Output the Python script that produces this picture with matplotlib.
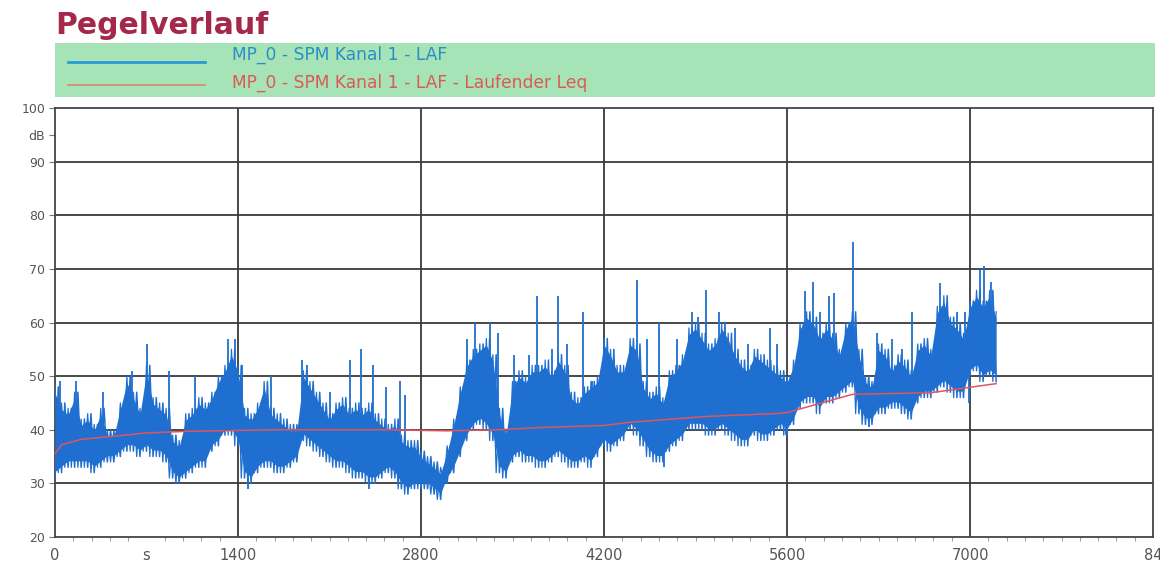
import numpy as np
import matplotlib
matplotlib.use("Agg")
import matplotlib.pyplot as plt
from matplotlib.patches import Rectangle
from matplotlib.lines import Line2D

# ---------------- data ----------------
time_s = list(range(0, 7201, 50))

laf_high = [
    48, 45, 44, 47, 42, 43, 41, 44, 40, 40,
    45, 50, 47, 44, 52, 46, 45, 44, 39, 38,
    43, 44, 46, 45, 47, 50, 52, 55, 52, 44,
    43, 45, 49, 44, 43, 42, 41, 41, 51, 49,
    47, 45, 43, 45, 46, 44, 45, 44, 45, 43,
    42, 41, 42, 39, 38, 38, 36, 35, 34, 33,
    37, 42, 48, 53, 55, 56, 57, 54, 44, 40,
    49, 51, 50, 52, 52, 53, 51, 54, 52, 47,
    46, 48, 49, 50, 57, 55, 52, 52, 57, 56,
    49, 47, 48, 46, 51, 52, 54, 59, 60, 58,
    56, 57, 60, 58, 55, 53, 52, 55, 54, 53,
    52, 51, 50, 53, 60, 62, 61, 58, 60, 58,
    55, 60, 62, 55, 50, 49, 56, 55, 52, 54,
    53, 51, 56, 57, 55, 63, 65, 61, 60, 58,
    64, 66, 64, 66, 62,
]

laf_low = [
    31, 32, 33, 33, 33, 33, 32, 33, 34, 34,
    35, 36, 36, 35, 36, 35, 35, 34, 31, 30,
    31, 32, 33, 33, 36, 37, 39, 39, 37, 31,
    30, 32, 33, 33, 32, 32, 33, 34, 38, 37,
    36, 35, 34, 33, 33, 32, 31, 31, 30, 30,
    31, 32, 31, 29, 28, 29, 29, 29, 28, 27,
    30, 32, 35, 38, 40, 41, 40, 38, 32, 31,
    34, 35, 34, 34, 33, 33, 34, 35, 34, 33,
    33, 34, 33, 35, 37, 36, 37, 38, 40, 39,
    37, 35, 34, 34, 36, 37, 38, 40, 40, 40,
    39, 39, 40, 39, 38, 37, 37, 39, 38, 38,
    39, 40, 39, 41, 44, 45, 45, 43, 45, 45,
    46, 47, 48, 43, 41, 41, 43, 43, 44, 44,
    43, 42, 45, 46, 46, 47, 48, 47, 46, 46,
    50, 51, 49, 50, 49,
]

spike_time = [40, 160, 370, 590, 705, 870, 1070, 1320, 1380, 1430, 1650,
              1890, 1930, 2100, 2260, 2340, 2430, 2530, 2640, 2680, 3150,
              3210, 3325, 3390, 3510, 3630, 3685, 3800, 3845, 3920, 4040,
              4110, 4450, 4530, 4620, 4760, 4870, 4920, 4984, 5080, 5200,
              5300, 5470, 5520, 5740, 5800, 5850, 5920, 5960, 6105, 6285,
              6400, 6480, 6560, 6770, 6900, 6960, 7080, 7110, 7160]
spike_peak = [49, 49, 47, 51, 56, 51, 50, 57, 57, 52, 50,
              53, 52, 47, 53, 55, 52, 48, 49, 46.5, 57,
              60, 60, 58, 54, 54, 65, 55, 65, 56, 62,
              49, 68, 57, 60, 57, 62, 61, 66, 62, 59,
              56, 59, 56, 65.8, 67.5, 62, 65, 65.5, 75, 58,
              57, 55, 62, 67.4, 62, 62, 70, 70.5, 67.5]

dip_time = [1480, 2400, 4660, 5595, 6225, 6990]
dip_low = [29, 29, 33, 39, 40.5, 45]

leq_time = [0, 50, 200, 450, 700, 1000, 1700, 2500, 3000, 3400, 3700,
            4200, 4400, 5000, 5500, 5600, 6100, 6700, 7200]
leq_value = [35.5, 37.2, 38.2, 38.8, 39.4, 39.7, 40.0, 40.0, 39.8, 40.0, 40.4,
             40.8, 41.4, 42.5, 43.0, 43.2, 46.6, 46.9, 48.6]

x_ticks = [0, 700, 1400, 2800, 4200, 5600, 7000, 8400]
x_ticklabels = ["0", "s", "1400", "2800", "4200", "5600", "7000", "84"]
y_ticks = [20, 30, 40, 50, 60, 70, 80, 90, 95, 100]
y_ticklabels = ["20", "30", "40", "50", "60", "70", "80", "90", "dB", "100"]

title = "Pegelverlauf"
series_names = ["MP_0 - SPM Kanal 1 - LAF",
                "MP_0 - SPM Kanal 1 - LAF - Laufender Leq"]

# ---------------- styling ----------------
BLUE = "#1f6fd0"
RED = "#e2545c"
GRID = "#3a3a3a"
TICKC = "#555555"

W, H = 1160, 571
fig = plt.figure(figsize=(W / 100, H / 100), dpi=100)
ax = fig.add_axes([55 / W, 1 - 537 / H, (1153 - 55) / W, (537 - 108) / H])

t = np.asarray(time_s, dtype=float)
lo = np.asarray(laf_low, dtype=float)
hi = np.asarray(laf_high, dtype=float)

# blue LAF trace: zig-zag between the read minima and maxima
half = (t[1] - t[0]) / 2
n = 2 * len(t) - 1
zx = np.empty(n)
zx[0::2] = t
zx[1::2] = t[:-1] + half
za = np.empty(n)
za[0::2] = lo
za[1::2] = hi[:-1]
zb = np.empty(n)
zb[0::2] = hi
zb[1::2] = lo[1:]
ax.fill_between(t, lo + 1.2, hi - 1.2, color=BLUE, lw=0, zorder=3)
ax.plot(zx, za, color=BLUE, lw=1.1, zorder=3)
ax.plot(zx, zb, color=BLUE, lw=0.9, zorder=3)
ax.vlines(spike_time, np.interp(spike_time, t, lo) + 3, spike_peak,
          color=BLUE, lw=1.3, zorder=3)
ax.vlines(dip_time, dip_low, np.interp(dip_time, t, hi) - 3,
          color=BLUE, lw=1.3, zorder=3)

# red running Leq
ax.plot(leq_time, leq_value, color=RED, lw=1.1, zorder=4)

ax.set_xlim(0, 8400)
ax.set_ylim(20, 100)
ax.set_xticks(x_ticks)
ax.set_xticklabels(x_ticklabels)
ax.set_yticks(y_ticks)
ax.set_yticklabels(y_ticklabels)
ax.set_xticks(np.arange(0, 8401, 140), minor=True)
ax.tick_params(axis="x", which="major", length=0, pad=8,
               labelsize=10.5, labelcolor=TICKC)
ax.tick_params(axis="x", which="minor", length=3, width=0.6, color="#888888")
ax.tick_params(axis="y", which="major", length=4, width=0.8, color="#777777",
               labelsize=9, labelcolor=TICKC, pad=3)

for v in [30, 40, 50, 60, 70, 80, 90]:
    ax.axhline(v, color=GRID, lw=1.3, zorder=1)
for v in [1400, 2800, 4200, 5600, 7000]:
    ax.axvline(v, color=GRID, lw=1.3, zorder=1)
for s in ax.spines.values():
    s.set_color("#444444")
    s.set_linewidth(1.3)

# title
fig.text(55 / W, 1 - 34 / H, title, color="#a3284a", fontsize=21.5,
         fontweight="bold", va="baseline", ha="left")

# legend box
fig.patches.append(Rectangle((55 / W, 1 - 97 / H), 1100 / W, 54 / H,
                             transform=fig.transFigure, facecolor="#a6e3b6",
                             edgecolor="none", zorder=0))
fig.lines.append(Line2D([68 / W, 205 / W], [1 - 62 / H, 1 - 62 / H],
                        transform=fig.transFigure, color="#2a9ad6", lw=2))
fig.lines.append(Line2D([68 / W, 205 / W], [1 - 85 / H, 1 - 85 / H],
                        transform=fig.transFigure, color="#d98a6c", lw=1.2))
fig.text(232 / W, 1 - 55 / H, series_names[0], color="#2a8fc8",
         fontsize=12.3, va="center", ha="left")
fig.text(232 / W, 1 - 83 / H, series_names[1], color="#dc5a55",
         fontsize=12.3, va="center", ha="left")

fig.savefig("out.png", dpi=100, facecolor="white")
